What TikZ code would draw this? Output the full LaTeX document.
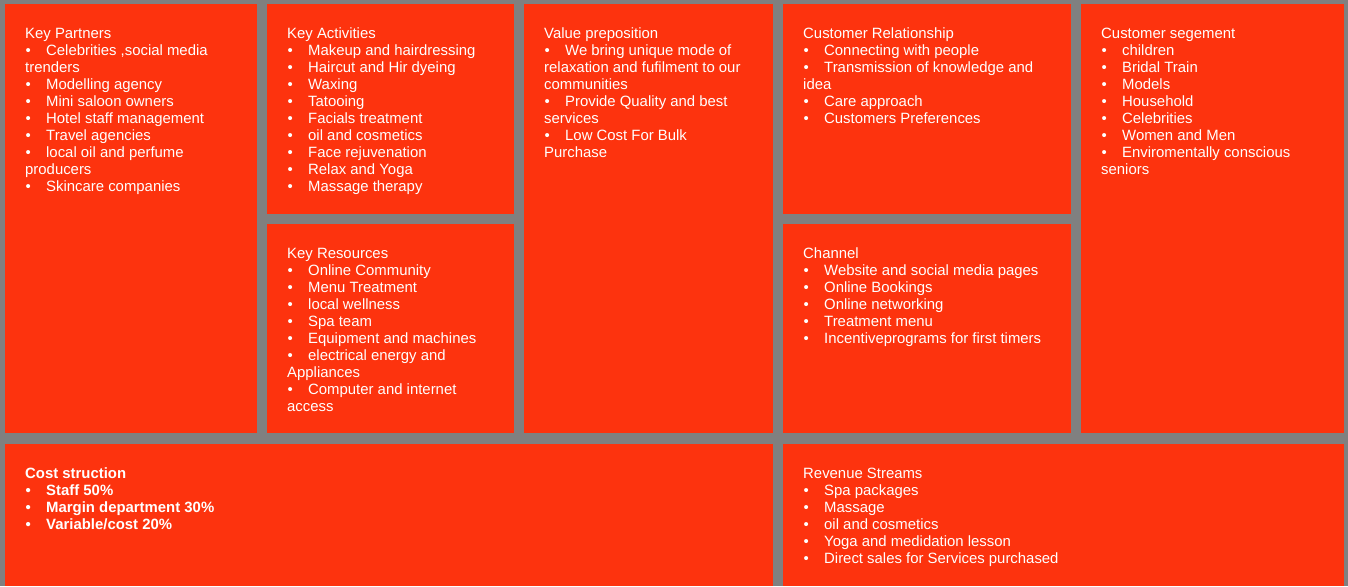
\documentclass[tikz,border=0pt]{standalone}
\usepackage{fontspec}
\setmainfont{Liberation Sans}
\usepackage{xcolor}
\usepackage{tikz}
\usetikzlibrary{positioning}
\definecolor{canvasred}{RGB}{253,51,14}
\definecolor{gridgrey}{RGB}{128,128,128}
\newcommand{\itm}{\makebox[21pt][l]{\hspace{0.5pt}•}}
\newcommand{\fst}{\rule{0pt}{12pt}}

\begin{document}
\begin{tikzpicture}[x=1pt, y=-1pt,
  cell/.style={fill=canvasred, draw=none, anchor=north west, inner sep=0pt, outer sep=0pt},
  txt/.style={anchor=north west, inner sep=0pt, align=left, text=white,
              font=\fontsize{14.9}{17}\selectfont}]
  % canvas
  \fill[gridgrey] (0,0) rectangle (1348,586);
  \useasboundingbox (0,0) rectangle (1348,586);
  % cells, top row
  \node[cell, minimum width=252pt, minimum height=429pt] (kp) at (5,4) {};
  \node[cell, minimum width=247pt, minimum height=210pt] (ka) at (267,4) {};
  \node[cell, minimum width=247pt, minimum height=209pt] (kr) at (267,224) {};
  \node[cell, minimum width=249pt, minimum height=429pt] (vp) at (524,4) {};
  \node[cell, minimum width=288pt, minimum height=210pt] (cr) at (783,4) {};
  \node[cell, minimum width=288pt, minimum height=209pt] (ch) at (783,224) {};
  \node[cell, minimum width=263pt, minimum height=429pt] (cs) at (1081,4) {};
  % cells, bottom row
  \node[cell, minimum width=768pt, minimum height=142pt] (cost) at (5,444) {};
  \node[cell, minimum width=561pt, minimum height=142pt] (rev) at (783,444) {};
  % texts
  \node[txt] (kptxt) at (25,26) {\fst Key Partners\\
    \itm Celebrities ,social media\\ trenders\\
    \itm Modelling agency\\
    \itm Mini saloon owners\\
    \itm Hotel staff management\\
    \itm Travel agencies\\
    \itm local oil and perfume\\ producers\\
    \itm Skincare companies};
  \node[txt] (katxt) at (287,26) {\fst Key Activities\\
    \itm Makeup and hairdressing\\
    \itm Haircut and Hir dyeing\\
    \itm Waxing\\
    \itm Tatooing\\
    \itm Facials treatment\\
    \itm oil and cosmetics\\
    \itm Face rejuvenation\\
    \itm Relax and Yoga\\
    \itm Massage therapy};
  \node[txt] (krtxt) at (287,246) {\fst Key Resources\\
    \itm Online Community\\
    \itm Menu Treatment\\
    \itm local wellness\\
    \itm Spa team\\
    \itm Equipment and machines\\
    \itm electrical energy and\\ Appliances\\
    \itm Computer and internet\\ access};
  \node[txt] (vptxt) at (544,26) {\fst Value preposition\\
    \itm We bring unique mode of\\ relaxation and fufilment to our\\ communities\\
    \itm Provide Quality and best\\ services\\
    \itm Low Cost For Bulk\\ Purchase};
  \node[txt] (crtxt) at (803,26) {\fst Customer Relationship\\
    \itm Connecting with people\\
    \itm Transmission of knowledge and\\ idea\\
    \itm Care approach\\
    \itm Customers Preferences};
  \node[txt] (chtxt) at (803,246) {\fst Channel\\
    \itm Website and social media pages\\
    \itm Online Bookings\\
    \itm Online networking\\
    \itm Treatment menu\\
    \itm Incentiveprograms for first timers};
  \node[txt] (cstxt) at (1101,26) {\fst Customer segement\\
    \itm children\\
    \itm Bridal Train\\
    \itm Models\\
    \itm Household\\
    \itm Celebrities\\
    \itm Women and Men\\
    \itm Enviromentally conscious\\ seniors};
  \node[txt, font=\fontsize{14.9}{17}\selectfont\bfseries] (costtxt) at (25,466) {\fst Cost struction\\
    \itm Staff 50\%\\
    \itm Margin department 30\%\\
    \itm Variable/cost 20\%};
  \node[txt] (revtxt) at (803,466) {\fst Revenue Streams\\
    \itm Spa packages\\
    \itm Massage\\
    \itm oil and cosmetics\\
    \itm Yoga and medidation lesson\\
    \itm Direct sales for Services purchased};
\end{tikzpicture}
\end{document}
